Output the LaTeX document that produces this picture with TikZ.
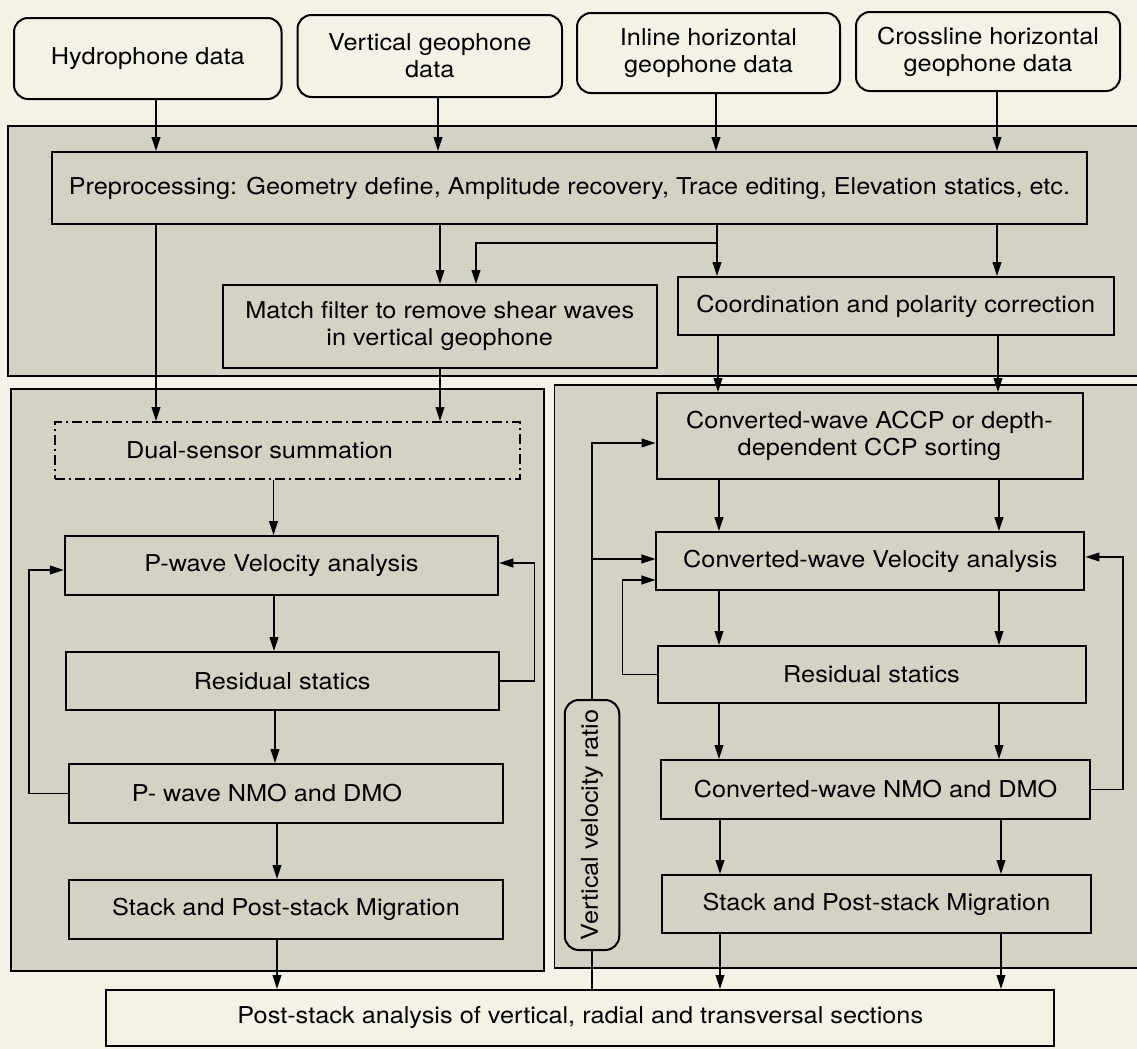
\documentclass[tikz,border=0pt]{standalone}
\usepackage{fontspec}
\setmainfont{TeX Gyre Heros}[FakeStretch=1.09]
\usetikzlibrary{arrows.meta,calc}
\definecolor{bgc}{RGB}{244,242,230}
\definecolor{panelc}{RGB}{213,210,197}
\begin{document}
\begin{tikzpicture}[x=0.5pt,y=-0.5pt,
  every node/.style={font=\fontsize{11.6pt}{13.5pt}\selectfont, align=center, inner sep=0pt},
  databox/.style={draw, line width=1pt, rounded corners=7pt, fill=bgc},
  procbox/.style={draw, line width=1pt, fill=panelc},
  panel/.style={draw, line width=0.6pt, fill=panelc},
  arr/.style={line width=0.8pt, -{Triangle[length=7pt,width=4.4pt]}},
  ln/.style={line width=0.8pt}]
\fill[bgc] (0,0) rectangle (1137,1049);
\useasboundingbox (0,0) rectangle (1137,1049);
% panels
\draw[panel] (8,126) rectangle (1145,376);
\draw[panel] (11,389) rectangle (544,971);
\draw[panel] (554.5,385) rectangle (1145,968);
% data boxes
\node[databox, minimum width=133.75pt, minimum height=40.5pt] (hyd) at (147.75,58.5) {Hydrophone data};
\node[databox, minimum width=132.25pt, minimum height=41pt] (vg) at (429.75,56) {Vertical geophone\\data};
\node[databox, minimum width=131.5pt, minimum height=40pt] (inl) at (708.5,53) {Inline horizontal\\geophone data};
\node[databox, minimum width=132pt, minimum height=39.5pt] (crs) at (988,51.5) {Crossline horizontal\\geophone data};
% preprocessing stage
\node[procbox, minimum width=517.5pt, minimum height=36pt] (pre) at (569.5,188) {Preprocessing: Geometry define, Amplitude recovery, Trace editing, Elevation statics, etc.};
\node[procbox, minimum width=217.25pt, minimum height=41.5pt] (match) at (439.75,326.5) {Match filter to remove shear waves\\in vertical geophone};
\node[procbox, minimum width=217.75pt, minimum height=29pt] (coord) at (895.75,306) {Coordination and polarity correction};
% left column (P-wave)
\node[draw, line width=1pt, dash pattern=on 5pt off 2pt on 1pt off 2pt, minimum width=232.5pt, minimum height=28.5pt] (dual) at (287.5,450.5) {Dual-sensor summation\hspace*{28pt}};
\node[procbox, minimum width=216.75pt, minimum height=29.5pt] (pvel) at (281.5,565.5) {P-wave Velocity analysis};
\node[procbox, minimum width=216.75pt, minimum height=29pt] (pres) at (282.25,681) {Residual statics};
\node[procbox, minimum width=217pt, minimum height=29.5pt] (pnmo) at (286,793.5) {P- wave NMO and DMO\hspace*{19pt}};
\node[procbox, minimum width=217pt, minimum height=29.5pt] (pstack) at (286,909.5) {Stack and Post-stack Migration};
% right column (converted wave)
\node[procbox, minimum width=213pt, minimum height=43pt] (accp) at (869.5,436) {Converted-wave ACCP or depth-\\dependent CCP sorting};
\node[procbox, minimum width=214pt, minimum height=29pt] (cvel) at (870.4,561) {Converted-wave Velocity analysis};
\node[procbox, minimum width=214pt, minimum height=28.5pt] (cres) at (871.5,674.5) {Residual statics};
\node[procbox, minimum width=214.35pt, minimum height=29.5pt] (cnmo) at (875.6,789.5) {Converted-wave NMO and DMO};
\node[procbox, minimum width=214.15pt, minimum height=29pt] (cstack) at (876.5,904) {Stack and Post-stack Migration};
\node[draw, line width=1pt, rounded corners=7pt, fill=panelc, minimum width=27.25pt, minimum height=125pt] (vvr) at (592,825) {};
\node[rotate=90] (vvrt) at (vvr.center) {Vertical velocity ratio};
% final
\node[draw, line width=1pt, fill=bgc, minimum width=473.85pt, minimum height=28pt] (post) at (580.3,1018) {Post-stack analysis of vertical, radial and transversal sections};
% connectors: inputs
\draw[arr] (hyd.south -| 156,0) -- (pre.north -| 156,0);
\draw[arr] (vg.south -| 438,0) -- (pre.north -| 438,0);
\draw[arr] (inl.south -| 716,0) -- (pre.north -| 716,0);
\draw[arr] (crs.south -| 997,0) -- (pre.north -| 997,0);
% preprocessing outputs
\draw[arr] (pre.south -| 156,0) -- (dual.north -| 156,0);
\draw[arr] (pre.south -| 440,0) -- (match.north -| 440,0);
\draw[arr] (pre.south -| 717,0) -- (coord.north -| 717,0);
\draw[arr] (717,243) -| (match.north -| 476,0);
\draw[arr] (pre.south -| 997,0) -- (coord.north -| 997,0);
\draw[arr] (match.south -| 440,0) -- (dual.north -| 440,0);
\draw[arr] (coord.south -| 718,0) -- (accp.north -| 718,0);
\draw[arr] (coord.south -| 998,0) -- (accp.north -| 998,0);
% left column
\draw[arr] (dual.south -| 273.5,0) -- (pvel.north -| 273.5,0);
\draw[arr] (pvel.south -| 274,0) -- (pres.north -| 274,0);
\draw[arr] (pres.south -| 275,0) -- (pnmo.north -| 275,0);
\draw[arr] (pnmo.south -| 277,0) -- (pstack.north -| 277,0);
\draw[arr] (pstack.south -| 277,0) -- (post.north -| 277,0);
\draw[arr] (pres.east) -| (534.5,563) -- (pvel.east |- 0,563);
\draw[arr] (pnmo.west) -| (29,570) -- (pvel.west |- 0,570);
% right column
\foreach \a/\b/\x in {accp/cvel/719, accp/cvel/999, cvel/cres/719, cvel/cres/999, cres/cnmo/719, cres/cnmo/999, cnmo/cstack/720, cnmo/cstack/1001, cstack/post/720, cstack/post/1001}
  \draw[arr] (\a.south -| \x,0) -- (\b.north -| \x,0);
\draw[arr] (cres.west) -| (622.6,580) -- (cvel.west |- 0,580);
\draw[arr] (cnmo.east) -| (1123,557) -- (cvel.east |- 0,557);
\draw[arr] (vvr.north) |- (accp.west |- 0,443);
\draw[arr] (vvr.north |- 0,559) -- (cvel.west |- 0,559);
\draw[ln] (vvr.south) -- (vvr.south |- post.north);
\end{tikzpicture}
\end{document}
